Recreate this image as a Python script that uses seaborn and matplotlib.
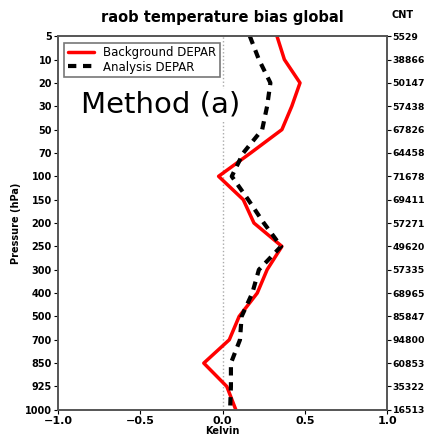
import numpy as np
import pandas as pd
import matplotlib
matplotlib.use("Agg")
import matplotlib.pyplot as plt
import seaborn as sns

# pressure levels (hPa) and observation counts
levels = [5, 10, 20, 30, 50, 70, 100, 150, 200, 250, 300, 400, 500, 700, 850, 925, 1000]
counts = [5529, 38866, 50147, 57438, 67826, 64458, 71678, 69411, 57271, 49620,
          57335, 68965, 85847, 94800, 60853, 35322, 16513]
bg_depar = [0.33, 0.375, 0.47, 0.42, 0.36, 0.17, -0.025, 0.125, 0.19, 0.36,
            0.27, 0.21, 0.10, 0.04, -0.115, 0.025, 0.08]
an_depar = [0.165, 0.22, 0.29, 0.27, 0.24, 0.125, 0.055, 0.155, 0.25, 0.355,
            0.22, 0.18, 0.115, 0.105, 0.05, 0.05, 0.045]

sns.set_style("ticks")
plt.rcParams['font.family'] = ['DejaVu Sans']
plt.rcParams['text.color'] = 'black'
plt.rcParams['axes.labelcolor'] = 'black'
plt.rcParams['xtick.color'] = 'black'
plt.rcParams['ytick.color'] = 'black'

idx = np.arange(len(levels))
df_bg = pd.DataFrame({"bias": bg_depar, "lev": idx})
df_an = pd.DataFrame({"bias": an_depar, "lev": idx})

fig = plt.figure(figsize=(4.25, 4.36), dpi=100)
ax = fig.add_axes([0.137, 0.06, 0.774, 0.857])

ax.axvline(0, color="#aaaaaa", lw=1, ls=":", zorder=0)
sns.lineplot(data=df_bg, x="bias", y="lev", orient="y", sort=False, ax=ax,
             color="red", lw=2.5, label="Background DEPAR")
sns.lineplot(data=df_an, x="bias", y="lev", orient="y", sort=False, ax=ax,
             color="black", lw=3, ls=(0, (2, 1.6)), label="Analysis DEPAR")

ax.set_xlim(-1.0, 1.0)
ax.set_ylim(len(levels) - 1, 0)
ax.set_xticks([-1.0, -0.5, 0.0, 0.5, 1.0])
ax.set_xticklabels(["\u22121.0", "\u22120.5", "0.0", "0.5", "1.0"], fontweight="bold", fontsize=8)
ax.set_yticks(idx)
ax.set_yticklabels([str(l) for l in levels], fontweight="bold", fontsize=7)
ax.set_xlabel("Kelvin", fontweight="bold", fontsize=7, labelpad=0)
ax.set_ylabel("Pressure (hPa)", fontweight="bold", fontsize=7, labelpad=3)
ax.tick_params(axis="both", length=3, width=0.8, pad=1.5)
for s in ax.spines.values():
    s.set_color("#555555")
    s.set_linewidth(1.2)

leg = ax.legend(loc="upper left", fontsize=8.5, frameon=True, fancybox=False,
                handlelength=2.2, borderpad=0.3, labelspacing=0.1,
                bbox_to_anchor=(0.0, 0.998))
leg.get_frame().set_edgecolor("#555555")
leg.get_frame().set_linewidth(1.2)

ax2 = ax.twinx()
ax2.set_ylim(len(levels) - 1, 0)
ax2.set_yticks(idx)
ax2.set_yticklabels([str(c) for c in counts], fontweight="bold", fontsize=6.7)
ax2.tick_params(axis="y", length=3, width=0.8, pad=1)
for s in ax2.spines.values():
    s.set_color("#555555")
    s.set_linewidth(1.2)

ax.set_title("raob temperature bias global", fontweight="bold", fontsize=10.5, pad=10)
fig.text(0.92, 0.965, "CNT", fontweight="bold", fontsize=7, ha="left", va="center")
fig.text(0.19, 0.76, "Method (a)", fontsize=21, ha="left", va="center",
         bbox=dict(facecolor="white", edgecolor="none", pad=1))

fig.savefig("out.png", dpi=100)
